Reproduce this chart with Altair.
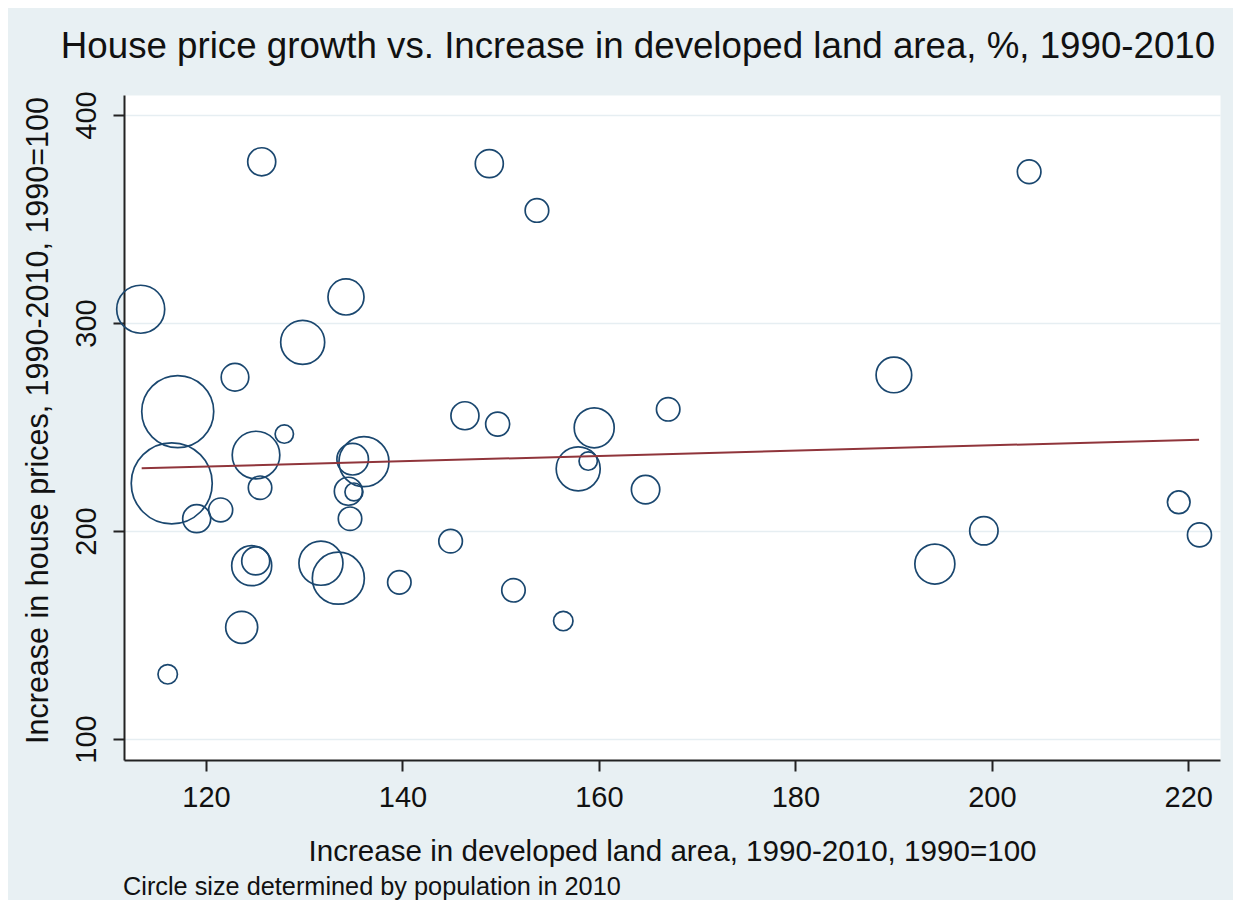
import altair as alt
import pandas as pd

# Increase in developed land area (x), house price increase (y), population 2010 (bubble size, millions)
land_increase = [125.67, 113.35, 134.25, 129.84, 122.95, 117.12, 127.97, 125.09, 134.93, 136.08,
                 116.51, 125.50, 119.05, 121.49, 134.49, 135.06, 134.66, 146.36, 149.69, 144.90,
                 124.65, 125.06, 131.70, 133.47, 139.68, 151.30, 123.63, 116.10, 148.84, 153.69,
                 159.52, 157.89, 158.91, 167.05, 164.75, 156.37, 203.80, 190.03, 219.03, 221.14,
                 199.19, 194.20]
price_increase = [377.5, 306.6, 312.5, 290.7, 273.9, 257.4, 246.6, 236.5, 234.5, 233.3,
                  222.9, 220.8, 205.9, 210.1, 219.1, 218.75, 205.9, 255.4, 251.4, 195.1,
                  183.3, 185.6, 184.5, 177.3, 175.3, 171.5, 153.7, 131.1, 376.6, 354.1,
                  249.6, 229.9, 233.6, 258.5, 219.9, 156.7, 372.7, 275.0, 213.8, 198.1,
                  200.1, 184.1]
population = [2.33, 6.84, 3.85, 5.75, 2.26, 15.39, 1.00, 6.73, 2.96, 7.42,
              19.48, 1.63, 2.33, 1.71, 2.33, 0.96, 1.63, 2.33, 1.71, 1.65,
              4.75, 2.33, 5.75, 8.03, 1.63, 1.63, 3.04, 1.12, 2.33, 1.65,
              4.75, 5.75, 1.00, 1.63, 2.39, 1.12, 1.65, 3.76, 1.52, 1.71,
              2.39, 4.75]

# Fitted line endpoints
fit_x = [113.45, 221.1]
fit_y = [230.1, 243.9]

x_ticks = [120, 140, 160, 180, 200, 220]
y_ticks = [100, 200, 300, 400]

title_text = "House price growth vs. Increase in developed land area, %, 1990-2010"
x_title = "Increase in developed land area, 1990-2010, 1990=100"
y_title = "Increase in house prices, 1990-2010, 1990=100"
note_text = "Circle size determined by population in 2010"

df = pd.DataFrame({"land": land_increase, "price": price_increase, "pop": population})
fit = pd.DataFrame({"land": fit_x, "price": fit_y})
note = pd.DataFrame({"t": [note_text]})

FONT = "Liberation Sans"
TXT = "#111111"

xscale = alt.Scale(domain=[111.65, 223.23], nice=False, zero=False)
yscale = alt.Scale(domain=[89.9, 409.6], nice=False, zero=False)

x_axis = alt.Axis(values=x_ticks, format="d", title=x_title, grid=False,
                  tickSize=11, tickWidth=2, tickColor="#222222",
                  domainColor="#222222", domainWidth=2,
                  labelFont=FONT, labelFontSize=29, labelColor=TXT, labelPadding=12,
                  titleFont=FONT, titleFontSize=29.6, titleFontWeight="normal", titleColor=TXT,
                  titleY=100, titleBaseline="alphabetic")
y_axis = alt.Axis(values=y_ticks, format="d", title=y_title, grid=True,
                  gridColor="#e6eef2", gridWidth=1.5,
                  tickSize=11, tickWidth=2, tickColor="#222222",
                  domainColor="#222222", domainWidth=2,
                  labelFont=FONT, labelFontSize=29, labelColor=TXT, labelPadding=18,
                  labelAngle=270, labelAlign="center", labelBaseline="alphabetic",
                  titleFont=FONT, titleFontSize=30.5, titleFontWeight="normal", titleColor=TXT,
                  titleAngle=270, titleAlign="center", titleBaseline="alphabetic",
                  titleX=-77, titleY=325)

points = alt.Chart(df).mark_point(shape="circle", filled=False, color="#1a476f",
                                  strokeWidth=1.7, opacity=1).encode(
    x=alt.X("land:Q", scale=xscale, axis=x_axis),
    y=alt.Y("price:Q", scale=yscale, axis=y_axis),
    size=alt.Size("pop:Q", scale=alt.Scale(domain=[0, 19.48], range=[0, 6561], zero=True), legend=None),
)

line = alt.Chart(fit).mark_line(color="#90353b", strokeWidth=2).encode(
    x=alt.X("land:Q", scale=xscale),
    y=alt.Y("price:Q", scale=yscale),
)

note_mark = alt.Chart(note).mark_text(align="left", baseline="alphabetic", font=FONT,
                                      fontSize=25.3, color=TXT).encode(
    x=alt.value(-1), y=alt.value(800), text="t:N")

chart = alt.layer(points, line, note_mark).properties(
    width=1096, height=665,
    padding={"left": 116, "top": 87, "right": 13, "bottom": 140},
    autosize=alt.AutoSizeParams(type="none"),
    background="#e8f0f3",
    title=alt.Title(title_text, font=FONT, fontSize=36.7, fontWeight="normal", color=TXT,
                    anchor="middle", dx=-34, offset=25),
).configure_view(fill="white", stroke="transparent")

chart.save("out.html", embed_options={"renderer": "svg", "actions": False})
